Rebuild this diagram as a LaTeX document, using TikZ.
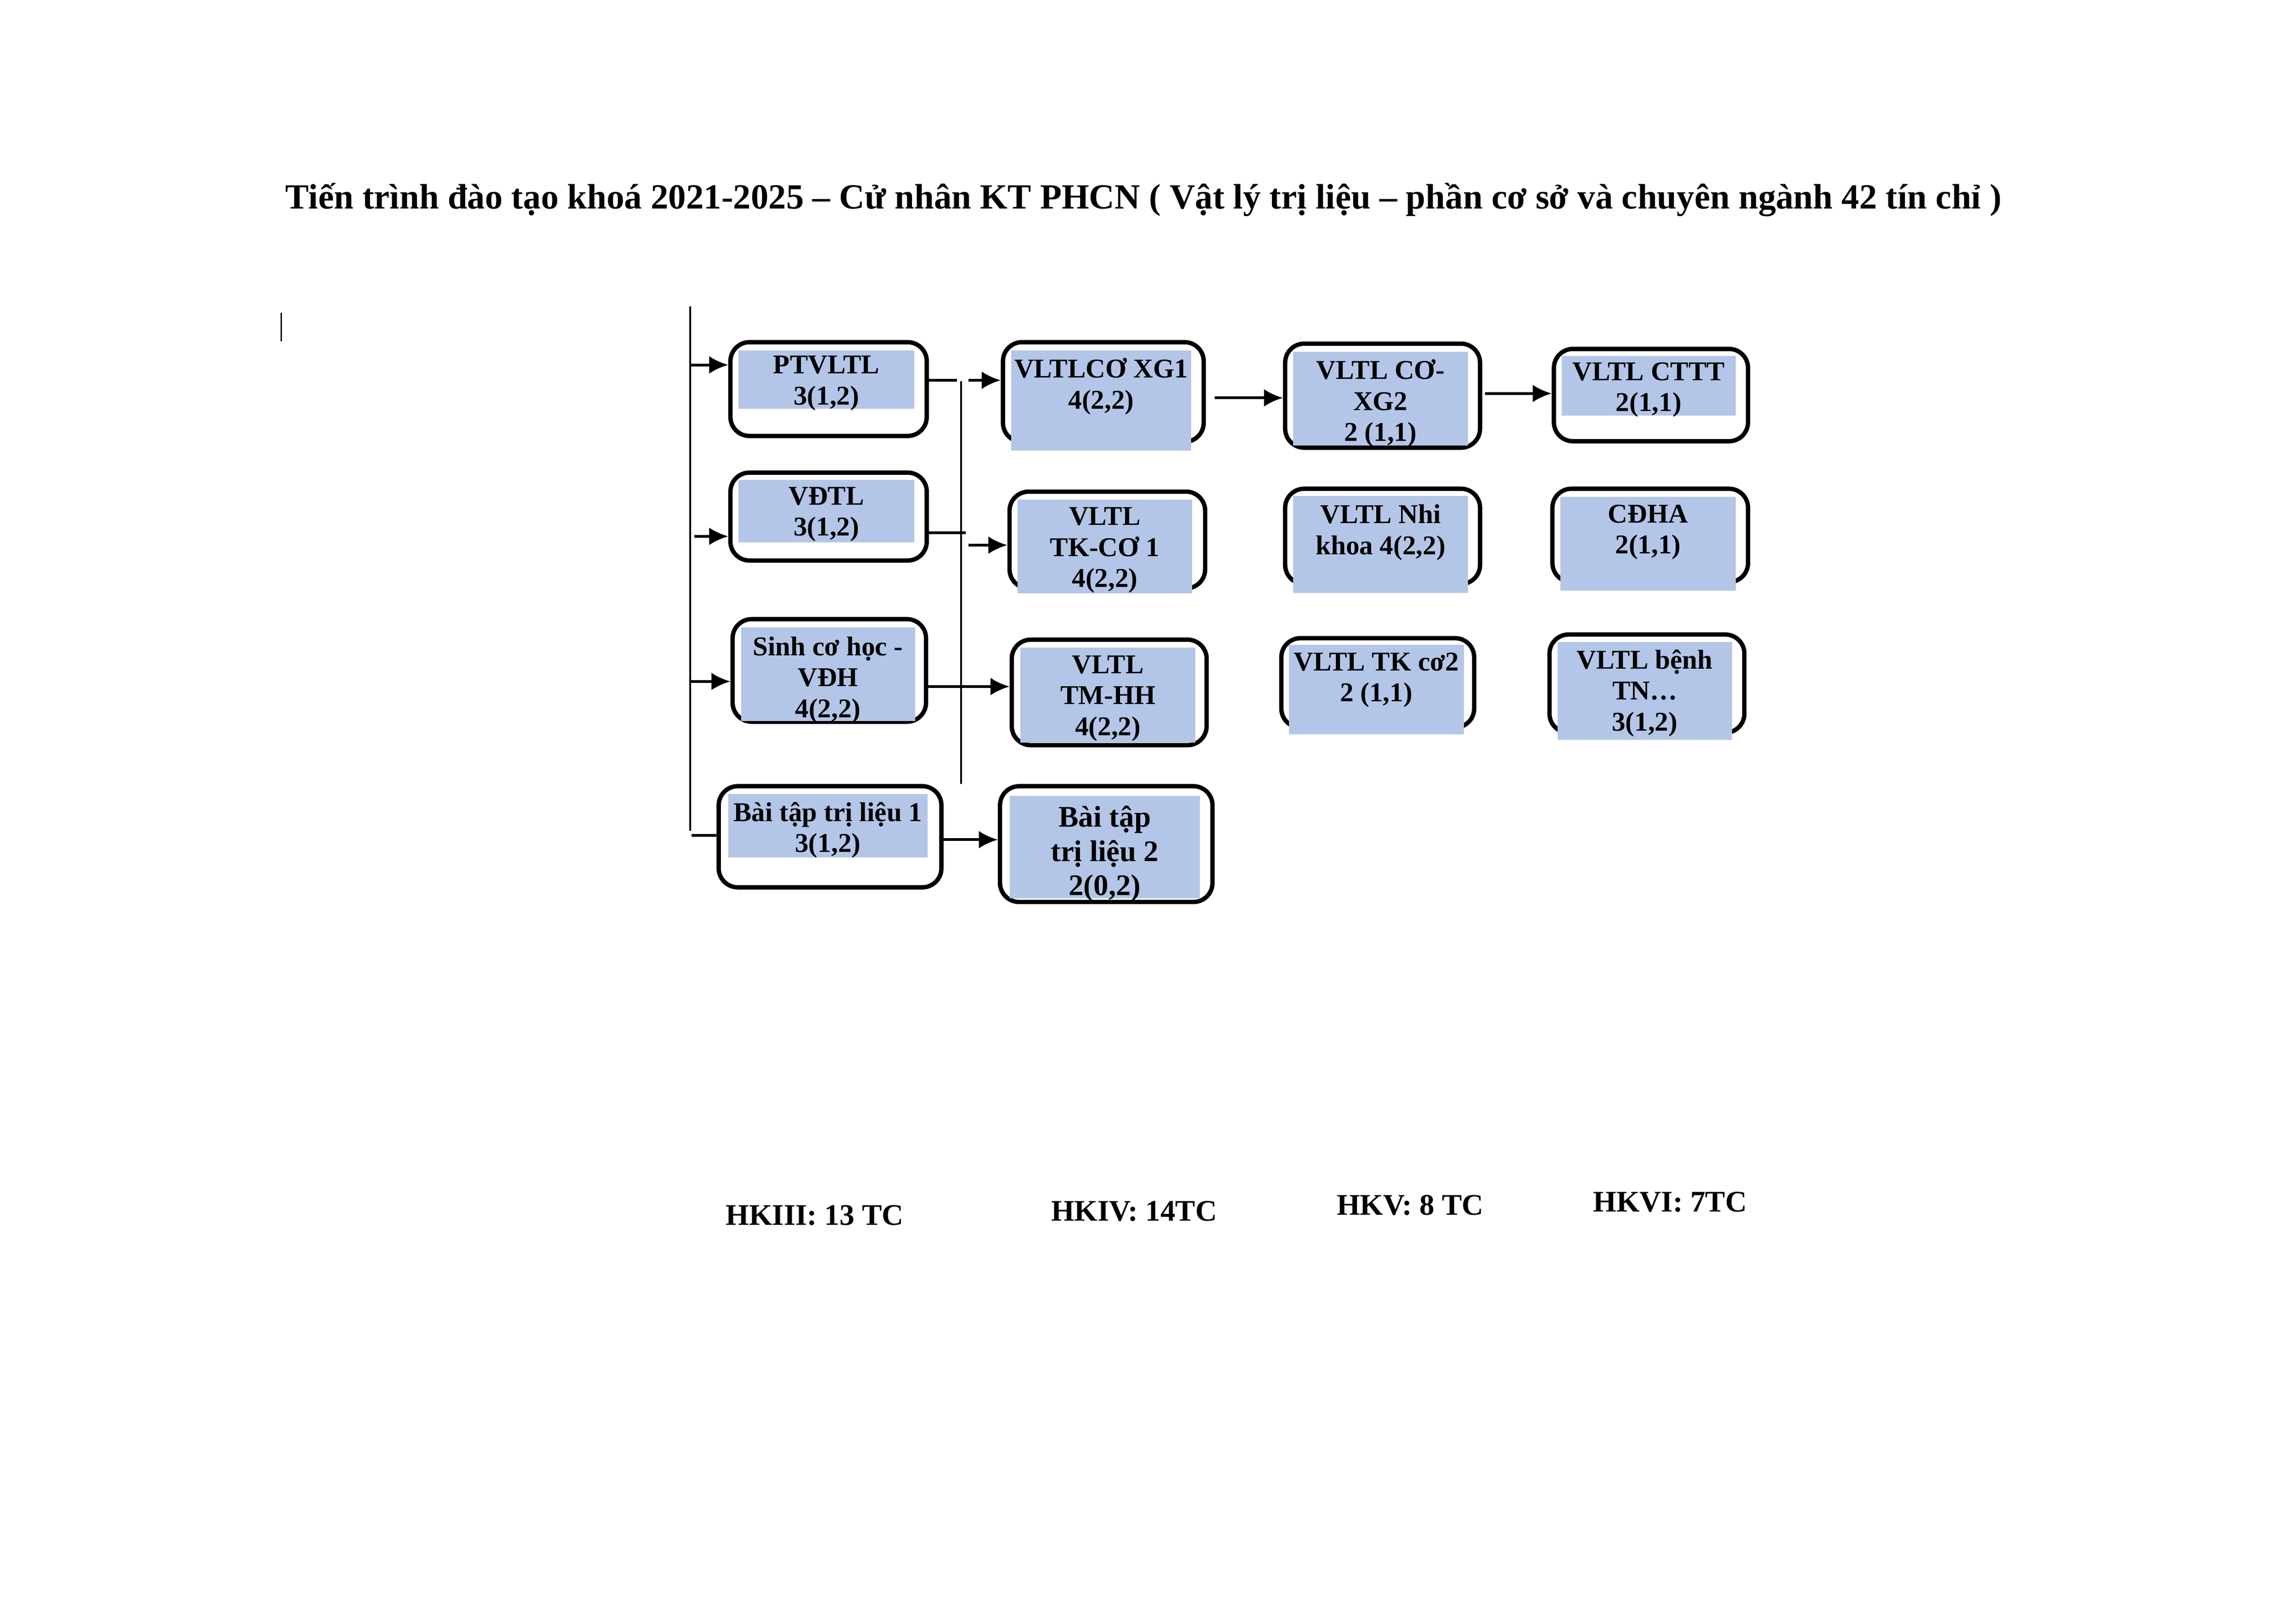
\documentclass[tikz,border=0pt]{standalone}
\usepackage{fontspec}
\setmainfont{Liberation Serif}
\usepackage{tikz}
\usetikzlibrary{arrows.meta}
\newlength{\gridu}
\setlength{\gridu}{0.018954cm}
\definecolor{cellblue}{HTML}{B4C6E7}
\tikzset{arrow/.style={->, >={Latex[length=7pt,width=6.5pt]}, line width=1pt}}
\tikzset{link/.style={line width=1pt}}
\tikzset{trunk/.style={line width=0.6pt}}
\tikzset{course/.style={draw, line width=1.6pt, rounded corners=7pt, fill=white, inner sep=0pt}}
\tikzset{cellfill/.style={fill=cellblue, inner sep=0pt}}
\tikzset{coursetext/.style={align=center, anchor=north, inner sep=0pt, font=\bfseries\fontsize{10}{11.4}\selectfont}}
\tikzset{termlabel/.style={anchor=base west, inner sep=0pt, font=\bfseries\fontsize{11}{13}\selectfont}}

\begin{document}
\begin{tikzpicture}[x=\gridu, y=-\gridu]
      \useasboundingbox (0,0) rectangle (1567,1107.4);

      \node[anchor=base, inner sep=0pt, font=\bfseries\fontsize{13}{15}\selectfont] (title) at (780.5,142.3)
        {Tiến trình đào tạo khoá 2021-2025 – Cử nhân KT PHCN ( Vật lý trị liệu – phần cơ sở và chuyên ngành 42 tín chỉ )};
      \draw[line width=0.5pt] (192,213.5) -- (192,232.7);

      % HKIII
      \node[course, minimum width=134\gridu, minimum height=64\gridu] (ptvltl) at (565.5,265.5) {};
      \node[cellfill, minimum width=120\gridu, minimum height=40\gridu] (ptvltlfill) at (564,259) {};
      \node[coursetext] (ptvltltext) at (564,242.5) {PTVLTL\\3(1,2)};

      \node[course, minimum width=134\gridu, minimum height=60\gridu] (vdtl) at (565.5,352.5) {};
      \node[cellfill, minimum width=120\gridu, minimum height=42.5\gridu] (vdtlfill) at (564,348.75) {};
      \node[coursetext] (vdtltext) at (564,332) {VĐTL\\3(1,2)};

      \node[course, minimum width=132\gridu, minimum height=70\gridu] (sinhcohoc) at (566,457.5) {};
      \node[cellfill, minimum width=118.8\gridu, minimum height=64\gridu] (sinhcohocfill) at (565.1,460) {};
      \node[coursetext] (sinhcohoctext) at (565.1,434) {Sinh cơ học -\\VĐH\\4(2,2)};

      \node[course, minimum width=152\gridu, minimum height=69\gridu] (baitap1) at (566.5,571) {};
      \node[cellfill, minimum width=136\gridu, minimum height=43\gridu] (baitap1fill) at (565,563.5) {};
      \node[coursetext] (baitap1text) at (565,547) {Bài tập trị liệu 1\\3(1,2)};

      % HKIV
      \node[course, minimum width=137\gridu, minimum height=68\gridu] (coxg1) at (753,267.5) {};
      \node[cellfill, minimum width=123\gridu, minimum height=68.5\gridu] (coxg1fill) at (751.5,273.25) {};
      \node[coursetext] (coxg1text) at (751.5,244) {VLTLCƠ XG1\\4(2,2)};

      \node[course, minimum width=133.5\gridu, minimum height=66\gridu] (tkco1) at (755.75,368.5) {};
      \node[cellfill, minimum width=119\gridu, minimum height=64\gridu] (tkco1fill) at (754,373) {};
      \node[coursetext] (tkco1text) at (754,346) {VLTL\\TK-CƠ 1\\4(2,2)};

      \node[course, minimum width=133\gridu, minimum height=72\gridu] (tmhh) at (757,472.5) {};
      \node[cellfill, minimum width=119.2\gridu, minimum height=64.6\gridu] (tmhhfill) at (756.1,474.3) {};
      \node[coursetext] (tmhhtext) at (756.1,447) {VLTL\\TM-HH\\4(2,2)};

      \node[course, minimum width=145\gridu, minimum height=79\gridu] (baitap2) at (755,576) {};
      \node[cellfill, minimum width=130\gridu, minimum height=70\gridu] (baitap2fill) at (754,578) {};
      \node[coursetext, font=\bfseries\fontsize{11}{12.6}\selectfont] (baitap2text) at (754,549.5) {Bài tập\\trị liệu 2\\2(0,2)};

      % HKV
      \node[course, minimum width=133\gridu, minimum height=71\gridu] (coxg2) at (943.6,270) {};
      \node[cellfill, minimum width=119.3\gridu, minimum height=64\gridu] (coxg2fill) at (942.15,272) {};
      \node[coursetext] (coxg2text) at (942.15,245) {VLTL CƠ-\\XG2\\2 (1,1)};

      \node[course, minimum width=133\gridu, minimum height=65\gridu] (nhikhoa) at (943.6,366) {};
      \node[cellfill, minimum width=119.5\gridu, minimum height=65.9\gridu] (nhikhoafill) at (942.25,371.55) {};
      \node[coursetext] (nhikhoatext) at (942.25,344) {VLTL Nhi\\khoa 4(2,2)};

      \node[course, minimum width=131.6\gridu, minimum height=61\gridu] (tkco2) at (940.3,466) {};
      \node[cellfill, minimum width=119.4\gridu, minimum height=61\gridu] (tkco2fill) at (939.3,470.5) {};
      \node[coursetext] (tkco2text) at (939.3,445) {VLTL TK cơ2\\2 (1,1)};

      % HKVI
      \node[course, minimum width=132.5\gridu, minimum height=63\gridu] (cttt) at (1126.75,269.6) {};
      \node[cellfill, minimum width=119\gridu, minimum height=40.7\gridu] (ctttfill) at (1125.2,263.35) {};
      \node[coursetext] (cttttext) at (1125.2,247) {VLTL CTTT\\2(1,1)};

      \node[course, minimum width=133.5\gridu, minimum height=63.7\gridu] (cdha) at (1126.25,365.35) {};
      \node[cellfill, minimum width=119.5\gridu, minimum height=64\gridu] (cdhafill) at (1124.75,371) {};
      \node[coursetext] (cdhatext) at (1124.75,344) {CĐHA\\2(1,1)};

      \node[course, minimum width=133\gridu, minimum height=67\gridu] (benhtn) at (1124,466.5) {};
      \node[cellfill, minimum width=119\gridu, minimum height=67\gridu] (benhtnfill) at (1122.5,471.5) {};
      \node[coursetext] (benhtntext) at (1122.5,443) {VLTL bệnh\\TN…\\3(1,2)};

      % trunk into HKIII
      \coordinate (trunkAtop) at (471,209);
      \coordinate (trunkAbot) at (471,567);
      \coordinate (inA) at (471,249);
      \coordinate (inB) at (474,366);
      \coordinate (inC) at (471,465);
      \coordinate (inD) at (472,570);
      \draw[trunk] (trunkAtop) -- (trunkAbot);
      \draw[arrow] (inA) -- (inA -| ptvltl.west);
      \draw[arrow] (inB) -- (inB -| vdtl.west);
      \draw[arrow] (inC) -- (inC -| sinhcohoc.west);
      \draw[link] (inD) -- (inD -| baitap1.west);

      % trunk into HKIV
      \coordinate (trunkBtop) at (656,260);
      \coordinate (trunkBbot) at (656,535);
      \coordinate (outA) at (653,259.5);
      \coordinate (toA) at (661,259.5);
      \coordinate (outB) at (659,363.5);
      \coordinate (toB) at (661,372);
      \coordinate[yshift=-11\gridu] (outC) at (sinhcohoc.east);
      \coordinate[yshift=-2\gridu] (outD) at (baitap1.east);
      \draw[trunk] (trunkBtop) -- (trunkBbot);
      \draw[link] (outA -| ptvltl.east) -- (outA);
      \draw[arrow] (toA) -- (toA -| coxg1.west);
      \draw[link] (outB -| vdtl.east) -- (outB);
      \draw[arrow] (toB) -- (toB -| tkco1.west);
      \draw[arrow] (outC) -- (outC -| tmhh.west);
      \draw[arrow] (outD) -- (outD -| baitap2.west);

      % HKIV -> HKV -> HKVI
      \coordinate[xshift=6\gridu, yshift=-4\gridu] (outX) at (coxg1.east);
      \coordinate[xshift=2\gridu, yshift=1.5\gridu] (outY) at (coxg2.east);
      \draw[arrow] (outX) -- (outX -| coxg2.west);
      \draw[arrow] (outY) -- (outY -| cttt.west);

      \node[termlabel] (hk3) at (495,836) {HKIII: 13 TC};
      \node[termlabel] (hk4) at (717,833) {HKIV: 14TC};
      \node[termlabel] (hk5) at (912,829) {HKV: 8 TC};
      \node[termlabel] (hk6) at (1087,827) {HKVI: 7TC};
    \end{tikzpicture}
\end{document}
